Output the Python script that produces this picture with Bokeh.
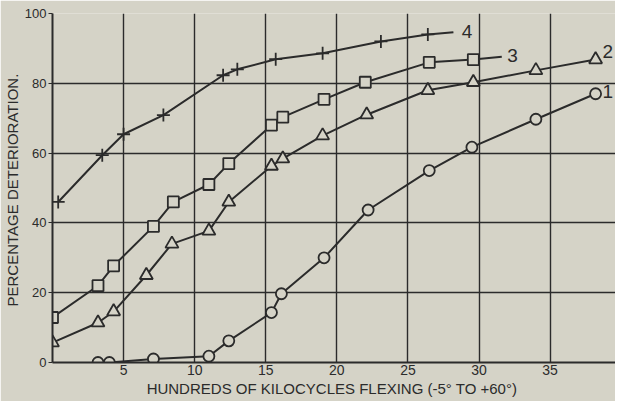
from bokeh.plotting import figure
from bokeh.embed import file_html
from bokeh.resources import INLINE
from bokeh.core.properties import value
from bokeh.models import FixedTicker, Range1d

# --- data ---
x1 = [3.2, 4.0, 7.1, 11.0, 12.4, 15.4, 16.1, 19.1, 22.2, 26.5, 29.5, 34.0, 38.2]
y1 = [0, 0, 1, 1.8, 6.2, 14.3, 19.7, 30, 43.7, 55, 61.7, 69.7, 77]

x2 = [0, 3.2, 4.3, 6.6, 8.4, 11.0, 12.4, 15.4, 16.2, 19.0, 22.1, 26.4, 29.6, 34.0, 38.2]
y2 = [5.7, 11.4, 14.6, 25, 34, 37.7, 46, 56.3, 58.4, 65, 71, 78, 80.3, 83.7, 86.8]

x3 = [0, 3.2, 4.3, 7.1, 8.5, 11.0, 12.4, 15.4, 16.2, 19.1, 22.0, 26.5, 29.6]
y3 = [12.9, 22, 27.7, 39, 46, 51, 57, 68, 70.3, 75.4, 80.3, 86, 86.8]

x4 = [0.4, 3.5, 5.0, 7.8, 12.0, 13.0, 15.7, 19.0, 23.1, 26.4]
y4 = [46, 59.4, 65.4, 70.9, 82.3, 84, 86.9, 88.6, 92, 94]

series_labels = ["1", "2", "3", "4"]
x_ticks = [0, 5, 10, 15, 20, 25, 30, 35]
y_ticks = [0, 20, 40, 60, 80, 100]
x_title = "HUNDREDS OF KILOCYCLES FLEXING  (-5° TO +60°)"
y_title = "PERCENTAGE  DETERIORATION."

BG = "#d5d3c7"
INK = "#2b2b2b"
FONT = "Liberation Sans"

p = figure(width=615, height=401, output_backend="svg", toolbar_location=None,
           x_range=Range1d(0, 39.6), y_range=Range1d(0, 100),
           min_border_left=49, min_border_top=13, min_border_right=0, min_border_bottom=39)
p.background_fill_color = BG
p.border_fill_color = BG
p.outline_line_color = None

p.xaxis.ticker = FixedTicker(ticks=x_ticks)
p.yaxis.ticker = FixedTicker(ticks=y_ticks)
p.xaxis.major_label_overrides = {0: ""}
for ax in (p.xaxis[0], p.yaxis[0]):
    ax.axis_line_color = INK
    ax.axis_line_width = 2
    ax.major_tick_line_color = INK
    ax.minor_tick_line_color = None
    ax.major_label_text_font = FONT
    ax.major_label_text_color = INK
    ax.major_label_text_font_size = "13px"
    ax.axis_label_text_font = FONT
    ax.axis_label_text_font_style = "normal"
    ax.axis_label_text_color = INK
    ax.major_label_standoff = 2
    ax.axis_label_standoff = 2
p.xaxis.major_label_text_font_size = "14px"
p.xaxis.axis_label_text_font_size = "15px"
p.yaxis.axis_label_text_font_size = "15px"
p.yaxis.axis_label_standoff = 1
p.xaxis.major_tick_out = 0
p.xaxis.major_tick_in = 0
p.yaxis.major_tick_out = 4
p.yaxis.major_tick_in = 0
p.xaxis.axis_label = x_title
p.yaxis.axis_label = y_title

p.xgrid.grid_line_color = INK
p.ygrid.grid_line_color = INK
p.xgrid.grid_line_width = 1.4
p.ygrid.grid_line_width = 1.4

LW = 2
for xs, ys in [(x1, y1), (x2, y2), (x3, y3), (x4, y4)]:
    p.line(xs, ys, line_color=INK, line_width=LW)

# short leader lines to the curve numbers for curves 3 and 4
p.segment(x0=[x3[-1], x4[-1]], y0=[y3[-1], y4[-1]],
          x1=[x3[-1] + 2.0, x4[-1] + 1.8], y1=[y3[-1] + 0.8, y4[-1] + 0.6],
          line_color=INK, line_width=LW)

p.scatter(x1, y1, marker="circle", size=11, fill_color=BG, line_color=INK, line_width=1.8)
p.scatter(x2, y2, marker="triangle", size=13, fill_color=BG, line_color=INK, line_width=1.8)
p.scatter(x3, y3, marker="square", size=11, fill_color=BG, line_color=INK, line_width=1.8)
p.scatter(x4, y4, marker="cross", size=13, line_color=INK, line_width=1.8)

lab_x = [x1[-1], x2[-1], x3[-1], x4[-1]]
lab_y = [y1[-1], y2[-1], y3[-1], y4[-1]]
p.text(x=lab_x, y=lab_y, text=series_labels,
       x_offset=[7, 7, 34, 34], y_offset=[-2, -8, -4, -3],
       text_font=value(FONT), text_font_size="19px", text_color=INK,
       text_baseline="middle", text_align="left")

open("out.html", "w").write(file_html(p, INLINE))
